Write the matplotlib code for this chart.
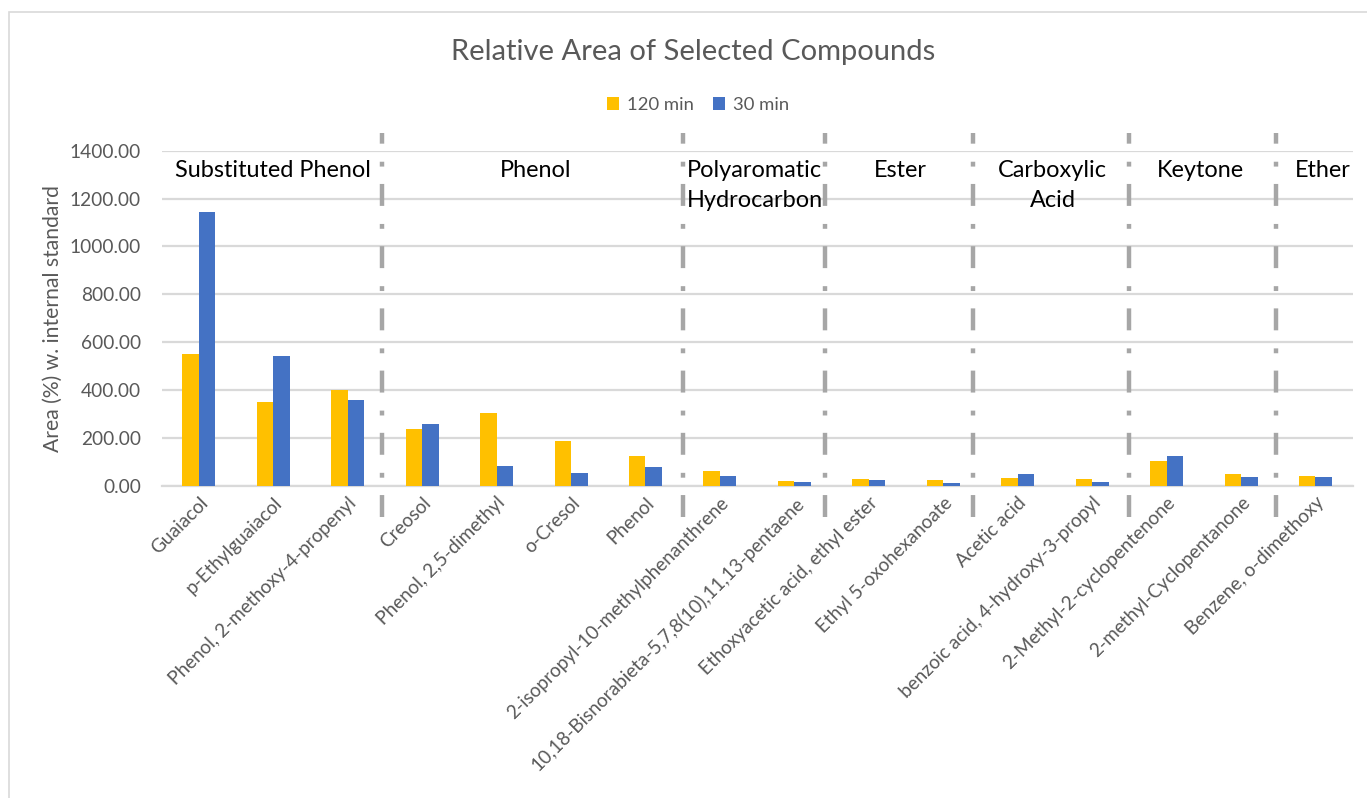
import matplotlib
matplotlib.use("Agg")
import matplotlib.pyplot as plt
import matplotlib.transforms as mtransforms
from matplotlib.patches import Rectangle
import numpy as np

plt.rcParams['font.family'] = ['Lato', 'DejaVu Sans']
plt.rcParams['lines.scale_dashes'] = False

compounds = [
    "Guaiacol", "p-Ethylguaiacol", "Phenol, 2-methoxy-4-propenyl", "Creosol",
    "Phenol, 2,5-dimethyl", "o-Cresol", "Phenol",
    "2-isopropyl-10-methylphenanthrene",
    "10,18-Bisnorabieta-5,7,8(10),11,13-pentaene",
    "Ethoxyacetic acid, ethyl ester", "Ethyl 5-oxohexanoate", "Acetic acid",
    "benzoic acid, 4-hydroxy-3-propyl", "2-Methyl-2-cyclopentenone",
    "2-methyl-Cyclopentanone", "Benzene, o-dimethoxy",
]
area_120 = [552, 348, 402, 235, 305, 185, 124, 60, 18, 26, 22, 32, 26, 102, 47, 42]
area_30 = [1145, 542, 357, 259, 84, 52, 78, 42, 14, 22, 10, 47, 14, 125, 38, 38]

groups = ["Substituted Phenol", "Phenol", "Polyaromatic\nHydrocarbon", "Ester",
          "Carboxylic\nAcid", "Keytone", "Ether"]
group_label_x = [1.0, 4.52, 7.47, 9.43, 11.47, 13.46, 15.1]
separator_x = [2.46, 6.5, 8.41, 10.40, 12.5, 14.47]

YELLOW = "#FFC000"
BLUE = "#4472C4"
GRID = "#D9D9D9"
TXT = "#595959"

W, H = 1367, 798
fig = plt.figure(figsize=(W / 100, H / 100), dpi=100)
fig.patch.set_facecolor("white")

left, right = 161.6 / W, 1352.7 / W
bottom, top = 1 - 485.7 / H, 1 - 150.7 / H
ax = fig.add_axes([left, bottom, right - left, top - bottom])

x = np.arange(len(compounds))
bw = 0.222
ax.bar(x - bw / 2, area_120, width=bw, color=YELLOW, label="120 min", zorder=3)
ax.bar(x + bw / 2, area_30, width=bw, color=BLUE, label="30 min", zorder=3)

ax.set_xlim(-0.5, len(compounds) - 0.5)
ax.set_ylim(0, 1400)
ax.set_yticks(np.arange(0, 1401, 200))
ax.set_yticklabels([f"{v:.2f}" for v in np.arange(0, 1401, 200)])
ax.yaxis.grid(True, color=GRID, linewidth=1.6, zorder=0)
ax.set_axisbelow(True)
for s in ["top", "right", "left"]:
    ax.spines[s].set_visible(False)
ax.spines["bottom"].set_color(GRID)
ax.spines["bottom"].set_linewidth(1.6)
ax.tick_params(axis="both", length=0, colors=TXT)
ax.tick_params(axis="y", pad=15, labelsize=13.8)
ax.tick_params(axis="x", pad=6)

ax.set_xticks(x)
ax.set_xticklabels(compounds, rotation=45, ha="right", va="top",
                   rotation_mode="anchor", color=TXT, fontsize=13.7)

ax.set_ylabel("Area (%) w. internal standard", fontsize=15.2, color=TXT)
ax.yaxis.set_label_coords(-0.083, 0.5)

# group separators: long dash - dot pattern, running past the plot area
trans = mtransforms.blended_transform_factory(ax.transData, ax.transAxes)
y_lo = (485.7 - 517) / 335.0
y_hi = (485.7 - 133) / 335.0
for sx in separator_x:
    ax.plot([sx, sx], [y_lo, y_hi], transform=trans, color="#A6A6A6",
            linewidth=3.2, linestyle=(0, (15.8, 12.5, 3.5, 13.0)),
            solid_capstyle="butt", dash_capstyle="butt", clip_on=False, zorder=4)

for gx, g in zip(group_label_x, groups):
    ax.text(gx, 1362, g, ha="center", va="top", fontsize=16.9, color="black",
            linespacing=1.55, zorder=5)

fig.text(693 / W, 1 - 52 / H, "Relative Area of Selected Compounds",
         ha="center", va="center", fontsize=21, color=TXT)

leg = fig.legend(loc="center", bbox_to_anchor=(698 / W, 1 - 105 / H), ncol=2,
                 frameon=False, fontsize=13.3, handlelength=0.65, handleheight=0.65,
                 handletextpad=0.45, columnspacing=1.0)
for t in leg.get_texts():
    t.set_color(TXT)

# chart frame
fig.add_artist(Rectangle((8.5 / W, -0.1), 1.2, 1.1 - 12 / H, transform=fig.transFigure,
                         fill=False, edgecolor="#D9D9D9", linewidth=1.2))

fig.savefig("out.png", dpi=100, facecolor="white")
